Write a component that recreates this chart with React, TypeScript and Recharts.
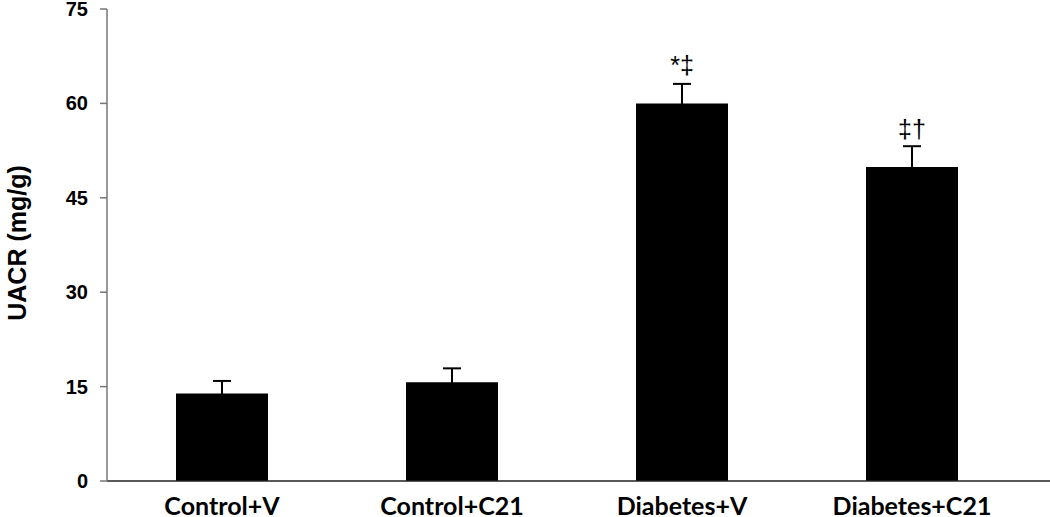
import React from 'react';
import { BarChart, Bar, XAxis, YAxis, ErrorBar, LabelList } from 'recharts';

const categories = ['Control+V', 'Control+C21', 'Diabetes+V', 'Diabetes+C21'];
const uacr = [13.9, 15.7, 60.0, 49.9];
const sem = [2.0, 2.2, 3.1, 3.3];
const marks = ['', '', '*\u2021', '\u2021\u2020'];
const yTicks = [0, 15, 30, 45, 60, 75];

const data = categories.map((c, i) => ({ name: c, value: uacr[i], err: sem[i], sig: marks[i] }));

const XTick = (props: any) => {
  const { x, y, payload } = props;
  return (
    <text x={x} y={y + 26} textAnchor="middle" style={{ fill: '#000', fontFamily: 'Lato, "Open Sans", sans-serif', fontWeight: 700, fontSize: 25 }}>
      {payload.value}
    </text>
  );
};

const YTick = (props: any) => {
  const { x, y, payload } = props;
  return (
    <text x={x + 2} y={y + 7} textAnchor="end" style={{ fill: '#000', fontFamily: '"Liberation Sans", Arial, sans-serif', fontWeight: 700, fontSize: 20 }}>
      {payload.value}
    </text>
  );
};

const SigLabel = (props: any) => {
  const { x, y, width, value } = props;
  if (!value) return null;
  return (
    <text x={x + width / 2} y={y - 29} textAnchor="middle" style={{ fill: '#000', fontFamily: '"Liberation Sans", Arial, sans-serif', fontSize: 25 }}>
      {value}
    </text>
  );
};

export default function App() {
  return (
    <div style={{ position: 'absolute', left: 0, top: 0, width: 1050, height: 517, background: '#fff' }}>
      <BarChart width={1050} height={517} data={data} margin={{ top: 9, right: 0, bottom: 0, left: 0 }}>
        <XAxis
          dataKey="name"
          height={36}
          padding={{ left: 0, right: 23 }}
          tickLine={false}
          axisLine={{ stroke: '#222', strokeWidth: 1.5 }}
          tick={<XTick />}
        />
        <YAxis
          width={107}
          domain={[0, 75]}
          ticks={yTicks}
          interval={0}
          tickSize={7}
          axisLine={{ stroke: '#777', strokeWidth: 1.5 }}
          tickLine={{ stroke: '#777', strokeWidth: 1.5 }}
          tick={<YTick />}
          tickMargin={14}
          label={() => (
            <text
              x={26}
              y={243}
              transform="rotate(-90 26 243)"
              textAnchor="middle"
              style={{ fill: '#000', fontFamily: '"Liberation Sans", Arial, sans-serif', fontWeight: 700, fontSize: 25 }}
            >
              UACR (mg/g)
            </text>
          )}
        />
        <Bar dataKey="value" fill="#000" barSize={92} isAnimationActive={false}>
          <ErrorBar dataKey="err" direction="y" width={9} stroke="#000" strokeWidth={2} />
          <LabelList dataKey="sig" content={<SigLabel />} />
        </Bar>
      </BarChart>
    </div>
  );
}
